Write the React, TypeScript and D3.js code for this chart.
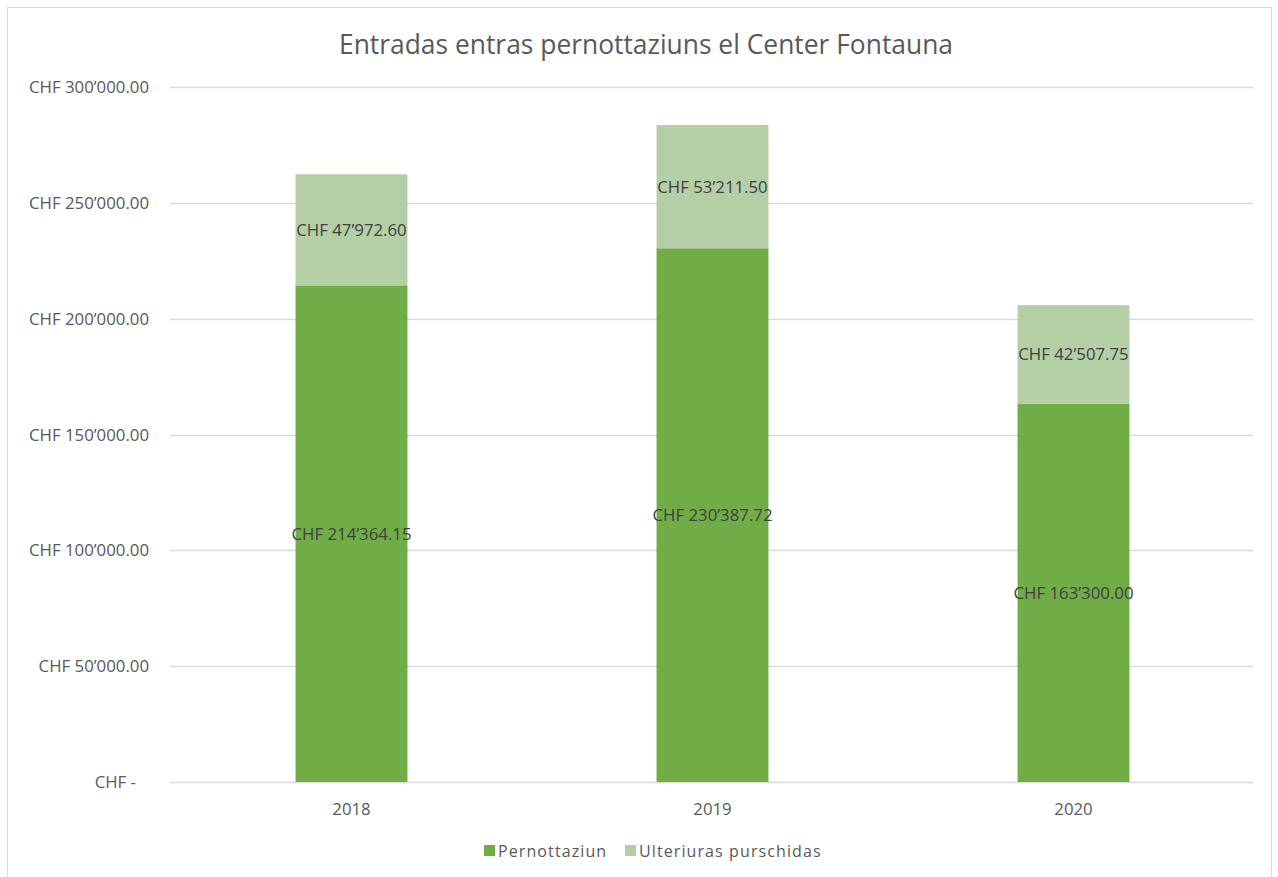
import React, { useEffect, useRef } from "react";
import * as d3 from "d3";

const years = ["2018", "2019", "2020"];
const pernottaziun = [214364.15, 230387.72, 163300.0];
const ulteriuras = [47972.6, 53211.5, 42507.75];
const yTicks = [0, 50000, 100000, 150000, 200000, 250000, 300000];
const seriesNames = ["Pernottaziun", "Ulteriuras purschidas"];
const colors = ["#70ad47", "#b4cfa6"];

const fmt = (v: number) => {
  if (v === 0) return "CHF -";
  const [int, dec] = v.toFixed(2).split(".");
  return "CHF " + int.replace(/\B(?=(\d{3})+(?!\d))/g, "\u2019") + "." + dec;
};

function App() {
  const svgRef = useRef<SVGSVGElement>(null);
  const width = 1278;
  const height = 877;
  const margin = { top: 87, right: 25, bottom: 95, left: 170 };

  useEffect(() => {
    const svg = d3.select(svgRef.current);
    svg.selectAll("*").remove();
    const font = "'Open Sans', sans-serif";
    const fs = 16.8;

    // frame
    svg
      .append("rect")
      .attr("x", 7.5)
      .attr("y", 7.5)
      .attr("width", 1264)
      .attr("height", 880)
      .attr("fill", "#fff")
      .attr("stroke", "#d9d9d9");

    const x = d3
      .scaleBand()
      .domain(years)
      .range([margin.left, width - margin.right])
      .padding(0);
    const y = d3
      .scaleLinear()
      .domain([0, 300000])
      .range([height - margin.bottom, margin.top]);

    // gridlines
    svg
      .append("g")
      .selectAll("line")
      .data(yTicks)
      .enter()
      .append("line")
      .attr("x1", margin.left)
      .attr("x2", width - margin.right)
      .attr("y1", (d) => Math.round(y(d)) + 0.5)
      .attr("y2", (d) => Math.round(y(d)) + 0.5)
      .attr("stroke", "#d9d9d9")
      .attr("stroke-width", 1.5);

    // y labels
    svg
      .append("g")
      .selectAll("text")
      .data(yTicks)
      .enter()
      .append("text")
      .attr("x", (d) => (d === 0 ? 136 : 149))
      .attr("y", (d) => y(d) + 6)
      .attr("text-anchor", "end")
      .attr("font-family", font)
      .attr("font-size", fs)
      .attr("fill", "#595959")
      .text((d) => fmt(d));

    // stacked data
    const rows = years.map((yr, i) => ({ year: yr, a: pernottaziun[i], b: ulteriuras[i] }));
    const stack = d3.stack<any>().keys(["a", "b"])(rows);
    const barW = x.bandwidth() * 0.31;

    stack.forEach((layer, li) => {
      const g = svg.append("g");
      g.selectAll("rect")
        .data(layer)
        .enter()
        .append("rect")
        .attr("x", (d: any) => x(d.data.year)! + x.bandwidth() / 2 - barW / 2 + 1)
        .attr("width", barW)
        .attr("y", (d) => y(d[1]))
        .attr("height", (d) => y(d[0]) - y(d[1]))
        .attr("fill", colors[li]);
      g.selectAll("text")
        .data(layer)
        .enter()
        .append("text")
        .attr("x", (d: any) => x(d.data.year)! + x.bandwidth() / 2 + 1)
        .attr("y", (d) => (y(d[0]) + y(d[1])) / 2 + 6)
        .attr("text-anchor", "middle")
        .attr("font-family", font)
        .attr("font-size", fs)
        .attr("fill", "#404040")
        .text((d) => fmt(d[1] - d[0]));
    });

    // x labels
    svg
      .append("g")
      .selectAll("text")
      .data(years)
      .enter()
      .append("text")
      .attr("x", (d) => x(d)! + x.bandwidth() / 2 + 1)
      .attr("y", 815)
      .attr("text-anchor", "middle")
      .attr("font-family", font)
      .attr("font-size", fs)
      .attr("fill", "#595959")
      .text((d) => d);

    // title
    svg
      .append("text")
      .attr("x", 646)
      .attr("y", 54)
      .attr("text-anchor", "middle")
      .attr("font-family", font)
      .attr("font-size", 26.4)
      .attr("fill", "#595959")
      .text("Entradas entras pernottaziuns el Center Fontauna");

    // legend
    const legendX = [484, 625];
    const lg = svg
      .append("g")
      .selectAll("g")
      .data(seriesNames)
      .enter()
      .append("g")
      .attr("transform", (_d, i) => `translate(${legendX[i]},845)`);
    lg.append("rect")
      .attr("width", 11)
      .attr("height", 11)
      .attr("fill", (_d, i) => colors[i]);
    lg.append("text")
      .attr("x", 14)
      .attr("y", 12)
      .attr("font-family", font)
      .attr("font-size", 16)
      .attr("letter-spacing", 1.1)
      .attr("fill", "#595959")
      .text((d) => d);
  }, []);

  return (
    <svg
      ref={svgRef}
      width={width}
      height={height}
      style={{ position: "absolute", left: 0, top: 0 }}
    ></svg>
  );
}

export default App;
